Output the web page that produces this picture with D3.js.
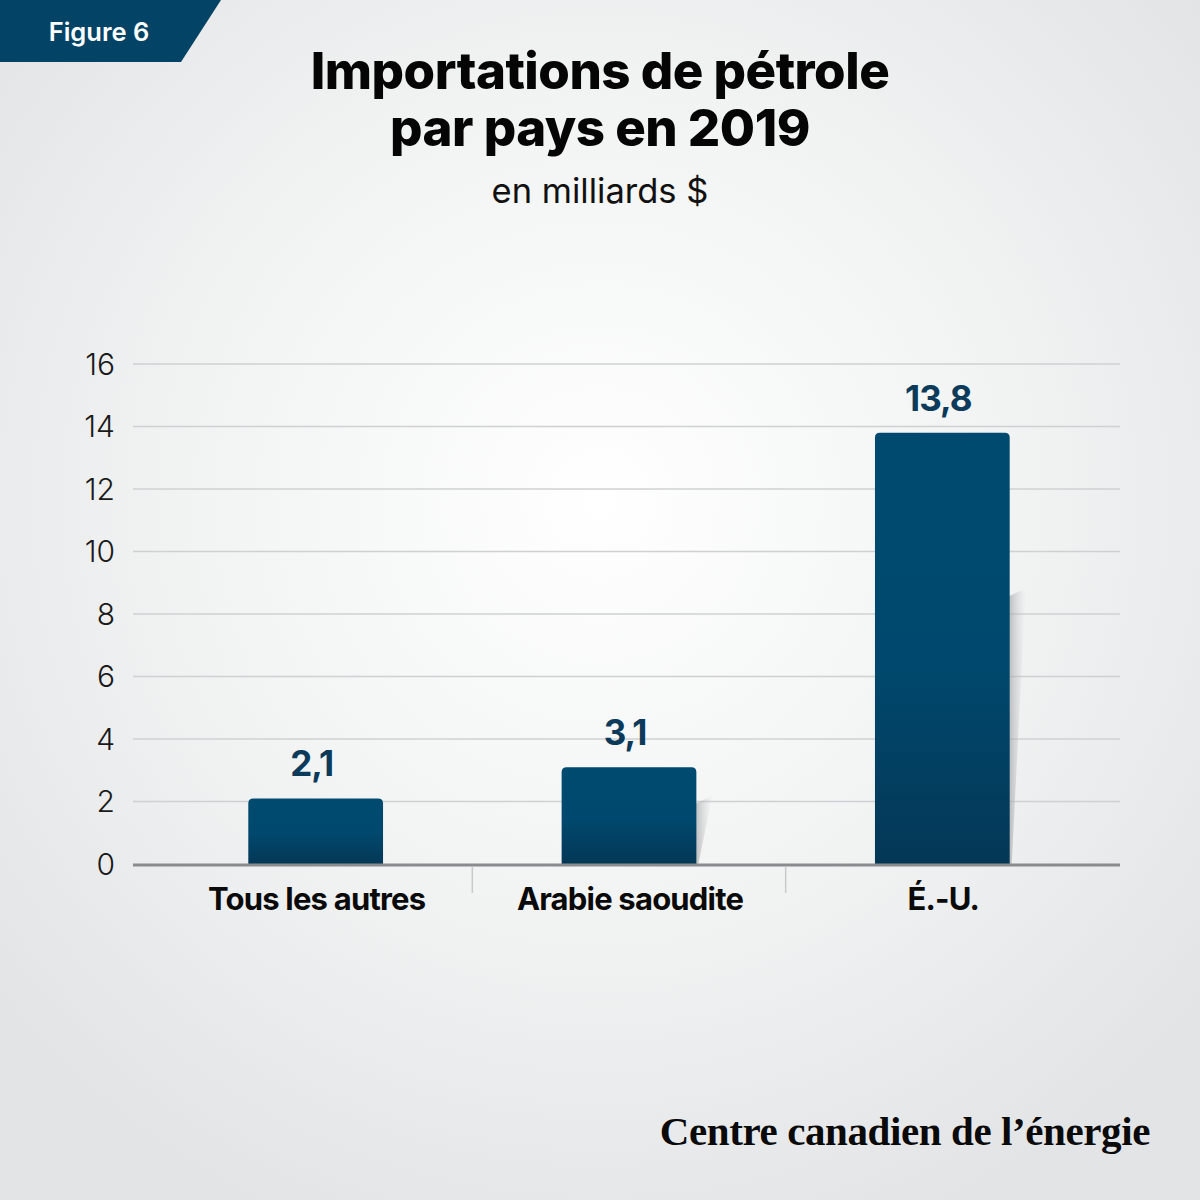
<!DOCTYPE html>
<html>
<head>
<meta charset="utf-8">
<script src="https://cdn.jsdelivr.net/npm/d3@7"></script>
<style>
  body { margin: 0; }
  svg { display: block; }
</style>
</head>
<body>
<svg id="chart"></svg>
<script>
// Chart data
var categories = ["Tous les autres", "Arabie saoudite", "É.-U."];
var values = [2.1, 3.1, 13.8];
var valueLabels = ["2,1", "3,1", "13,8"];
var yTicks = [0, 2, 4, 6, 8, 10, 12, 14, 16];

var width = 1200, height = 1200;
var svg = d3.select("#chart").attr("width", width).attr("height", height);
var defs = svg.append("defs");

// Background radial gradient
var bg = defs.append("radialGradient").attr("id", "bg")
    .attr("cx", "50%").attr("cy", "42%").attr("r", "65%");
bg.append("stop").attr("offset", "0%").attr("stop-color", "#ffffff");
bg.append("stop").attr("offset", "55%").attr("stop-color", "#f1f2f2");
bg.append("stop").attr("offset", "100%").attr("stop-color", "#e3e4e6");
svg.append("rect").attr("width", width).attr("height", height).attr("fill", "url(#bg)");

// Bar gradient
var barGrad = defs.append("linearGradient").attr("id", "bar")
    .attr("x1", 0).attr("y1", 0).attr("x2", 0).attr("y2", 1);
barGrad.append("stop").attr("offset", "0%").attr("stop-color", "#004a70");
barGrad.append("stop").attr("offset", "55%").attr("stop-color", "#00486d");
barGrad.append("stop").attr("offset", "100%").attr("stop-color", "#043756");

// Shadow gradient
var shGrad = defs.append("linearGradient").attr("id", "shadow")
    .attr("x1", 0).attr("y1", 0).attr("x2", 1).attr("y2", 0);
shGrad.append("stop").attr("offset", "0%").attr("stop-color", "#9a9c9f").attr("stop-opacity", 0.7);
shGrad.append("stop").attr("offset", "100%").attr("stop-color", "#c8c9cb").attr("stop-opacity", 0);

// Figure badge
svg.append("path")
    .attr("d", "M0,0 L221,0 L181,62 L0,62 Z")
    .attr("fill", "#034466");
svg.append("text")
    .attr("x", 99).attr("y", 41)
    .attr("text-anchor", "middle")
    .attr("font-family", "Inter, 'Noto Sans', sans-serif")
    .attr("font-weight", 600).attr("font-size", 25.5)
    .attr("fill", "#ffffff")
    .text("Figure 6");

// Titles (two separate lines)
var titleLines = ["Importations de pétrole", "par pays en 2019"];
svg.append("g").selectAll("text")
    .data(titleLines)
  .enter().append("text")
    .attr("x", 600)
    .attr("y", function(d, i) { return 89 + i * 57; })
    .attr("text-anchor", "middle")
    .attr("font-family", "Inter, 'Noto Sans', sans-serif")
    .attr("font-weight", 800).attr("font-size", 51)
    .attr("letter-spacing", -0.5)
    .attr("fill", "#050505")
    .text(function(d) { return d; });

svg.append("text")
    .attr("x", 600).attr("y", 203)
    .attr("text-anchor", "middle")
    .attr("font-family", "Inter, 'Noto Sans', sans-serif")
    .attr("font-size", 34.5)
    .attr("fill", "#111")
    .text("en milliards $");

// Scales
var margin = {left: 133, right: 1120};
var y = d3.scaleLinear().domain([0, 16]).range([864, 364]);
var x = d3.scaleBand().domain(categories).range([159, 1099]).paddingInner(0.57).paddingOuter(0.285);

// Grid lines
svg.append("g").selectAll("line")
    .data(yTicks.filter(function(d) { return d > 0; }))
  .enter().append("line")
    .attr("x1", margin.left).attr("x2", margin.right)
    .attr("y1", function(d) { return y(d); })
    .attr("y2", function(d) { return y(d); })
    .attr("stroke", "#cfd0d2").attr("stroke-width", 1.5);

// Y tick labels
svg.append("g").selectAll("text")
    .data(yTicks)
  .enter().append("text")
    .attr("x", 115)
    .attr("y", function(d) { return y(d); })
    .attr("dy", "0.36em")
    .attr("text-anchor", "end")
    .attr("font-family", "Inter, 'Noto Sans', sans-serif")
    .attr("font-weight", 300).attr("font-size", 30)
    .attr("fill", "#1a1a1a")
    .text(function(d) { return d; });

// Soft shadow behind taller bars
var shadows = svg.append("g");
categories.forEach(function(c, i) {
  var x0 = x(c) + x.bandwidth();
  var top = y(values[i] * 0.62);
  if (values[i] < 3) return;
  shadows.append("path")
    .attr("d", "M" + (x0 - 2) + "," + top +
               " L" + (x0 + 16) + "," + (top - 8) +
               " L" + (x0 + 2) + "," + y(0) +
               " L" + (x0 - 2) + "," + y(0) + " Z")
    .attr("fill", "url(#shadow)");
});

// Bars with rounded top corners
var r = 5;
svg.append("g").selectAll("path")
    .data(categories)
  .enter().append("path")
    .attr("d", function(c, i) {
      var x0 = x(c), w = x.bandwidth(), t = y(values[i]), b = y(0);
      return "M" + x0 + "," + b +
             " L" + x0 + "," + (t + r) +
             " Q" + x0 + "," + t + " " + (x0 + r) + "," + t +
             " L" + (x0 + w - r) + "," + t +
             " Q" + (x0 + w) + "," + t + " " + (x0 + w) + "," + (t + r) +
             " L" + (x0 + w) + "," + b + " Z";
    })
    .attr("fill", "url(#bar)");

// Value labels
svg.append("g").selectAll("text")
    .data(categories)
  .enter().append("text")
    .attr("x", function(c) { return x(c) + x.bandwidth() / 2 - 4; })
    .attr("y", function(c, i) { return y(values[i]) - 22; })
    .attr("text-anchor", "middle")
    .attr("font-family", "Inter, 'Noto Sans', sans-serif")
    .attr("font-weight", 700).attr("font-size", 35)
    .attr("letter-spacing", -1)
    .attr("fill", "#0b3a5a")
    .text(function(c, i) { return valueLabels[i]; });

// X axis baseline
svg.append("line")
    .attr("x1", margin.left).attr("x2", margin.right)
    .attr("y1", y(0) + 1).attr("y2", y(0) + 1)
    .attr("stroke", "#8a8b8d").attr("stroke-width", 3);

// Category separators
svg.append("g").selectAll("line")
    .data(categories.slice(1))
  .enter().append("line")
    .attr("x1", function(c) { return x(c) - x.step() * x.paddingInner() / 2; })
    .attr("x2", function(c) { return x(c) - x.step() * x.paddingInner() / 2; })
    .attr("y1", 867).attr("y2", 893)
    .attr("stroke", "#c8c9cb").attr("stroke-width", 1.5);

// Category labels
svg.append("g").selectAll("text")
    .data(categories)
  .enter().append("text")
    .attr("x", function(c) { return x(c) + x.bandwidth() / 2 + 1; })
    .attr("y", 910)
    .attr("text-anchor", "middle")
    .attr("font-family", "Inter, 'Noto Sans', sans-serif")
    .attr("font-weight", 700).attr("font-size", 31)
    .attr("letter-spacing", -0.8)
    .attr("fill", "#0a0a0a")
    .text(function(c) { return c; });

// Footer
svg.append("text")
    .attr("x", 1150).attr("y", 1145)
    .attr("text-anchor", "end")
    .attr("font-family", "'Liberation Serif', 'DejaVu Serif', serif")
    .attr("font-weight", 700).attr("font-size", 41)
    .attr("letter-spacing", -0.4)
    .attr("fill", "#0a0a0a")
    .text("Centre canadien de l’énergie");
</script>
</body>
</html>
